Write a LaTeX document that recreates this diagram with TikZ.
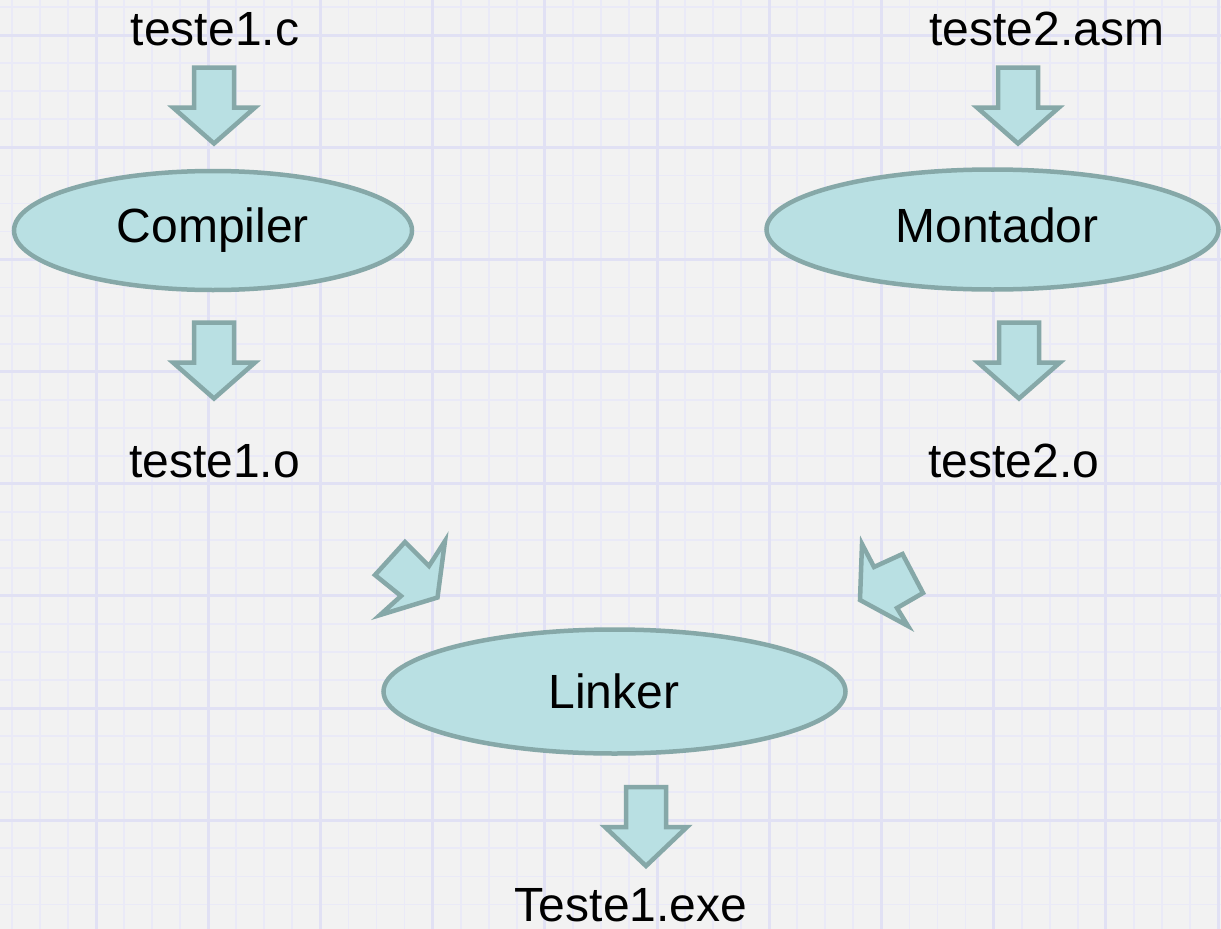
\documentclass[tikz,border=0pt]{standalone}
\usepackage{fontspec}
\setmainfont{Liberation Sans}
\usetikzlibrary{shapes.geometric}

\definecolor{paper}{RGB}{242,242,242}
\definecolor{gridminor}{RGB}{234,234,247}
\definecolor{gridmajor}{RGB}{225,225,244}
\definecolor{shapefill}{RGB}{185,224,227}
\definecolor{shapeline}{RGB}{134,168,168}

\tikzset{
  stage/.style={ellipse, draw=shapeline, fill=shapefill, line width=4.5pt, inner sep=0pt},
  filetext/.style={font=\fontsize{48}{57}\selectfont, anchor=base, inner sep=0pt},
  blockarrow/.style={draw=shapeline, fill=shapefill, line width=4.5pt, line join=miter, miter limit=10},
  downblock/.pic={
    \path[blockarrow] (-20,0) -- (20,0) -- (20,40) -- (41,40) -- (0,#1) -- (-41,40) -- (-20,40) -- cycle;
  }
}

\begin{document}
\begin{tikzpicture}[x=1pt, y=-1pt]
  \useasboundingbox (0,0) rectangle (1221,929);

  % squared paper background
  \fill[paper] (0,0) rectangle (1221,929);
  \begin{scope}
    \clip (0,0) rectangle (1221,929);
    \foreach \i in {0,...,43} {
      \draw[gridminor, line width=1.8pt] ({11.85+\i*28.05},0) -- ++(0,929);
    }
    \foreach \j in {0,...,33} {
      \draw[gridminor, line width=1.8pt] (0,{7.16+\j*28.04}) -- ++(1221,0);
    }
    \foreach \i in {0,...,10} {
      \draw[gridmajor, line width=3pt] ({96+\i*112.2},0) -- ++(0,929);
    }
    \foreach \j in {0,...,7} {
      \draw[gridmajor, line width=3pt] (0,{35.2+\j*112.15}) -- ++(1221,0);
    }
  \end{scope}

  % processing stages
  \node[stage, minimum width=398pt, minimum height=119pt] (compiler) at (213,230.5) {};
  \node[stage, minimum width=452pt, minimum height=120pt] (montador) at (992.5,229.5) {};
  \node[stage, minimum width=462pt, minimum height=124pt] (linker) at (614.5,691.5) {};

  % block arrows
  \pic at (214,67.5) {downblock=76};
  \pic at (214,322.5) {downblock=76};
  \pic at (1018,67.5) {downblock=76};
  \pic at (1019,322.5) {downblock=76};
  \pic at (646,787) {downblock=79};

  % slanted arrows into the linker: shaft end, notch, wing, tip, wing, notch
  \path[blockarrow] (375,575) -- (405,542) -- (429,566) -- (445,541)
    -- (437.5,597.5) -- (380,615) -- (401,596) -- cycle;
  \path[blockarrow] (862,544) -- (874,567) -- (902.5,554) -- (923,593)
    -- (897,608) -- (908,626) -- (860,600) -- cycle;

  % file names and stage names
  \node[filetext] (src1) at (215,45) {teste1.c};
  \node[filetext] (src2) at (1047,45) {teste2.asm};
  \node[filetext] (compilertext) at (213,242) {Compiler};
  \node[filetext] (montadortext) at (997,242) {Montador};
  \node[filetext] (obj1) at (214.5,477) {teste1.o};
  \node[filetext] (obj2) at (1014,477) {teste2.o};
  \node[filetext] (linkertext) at (614,708) {Linker};
  \node[filetext] (exe) at (631,921) {Teste1.exe};
\end{tikzpicture}
\end{document}
